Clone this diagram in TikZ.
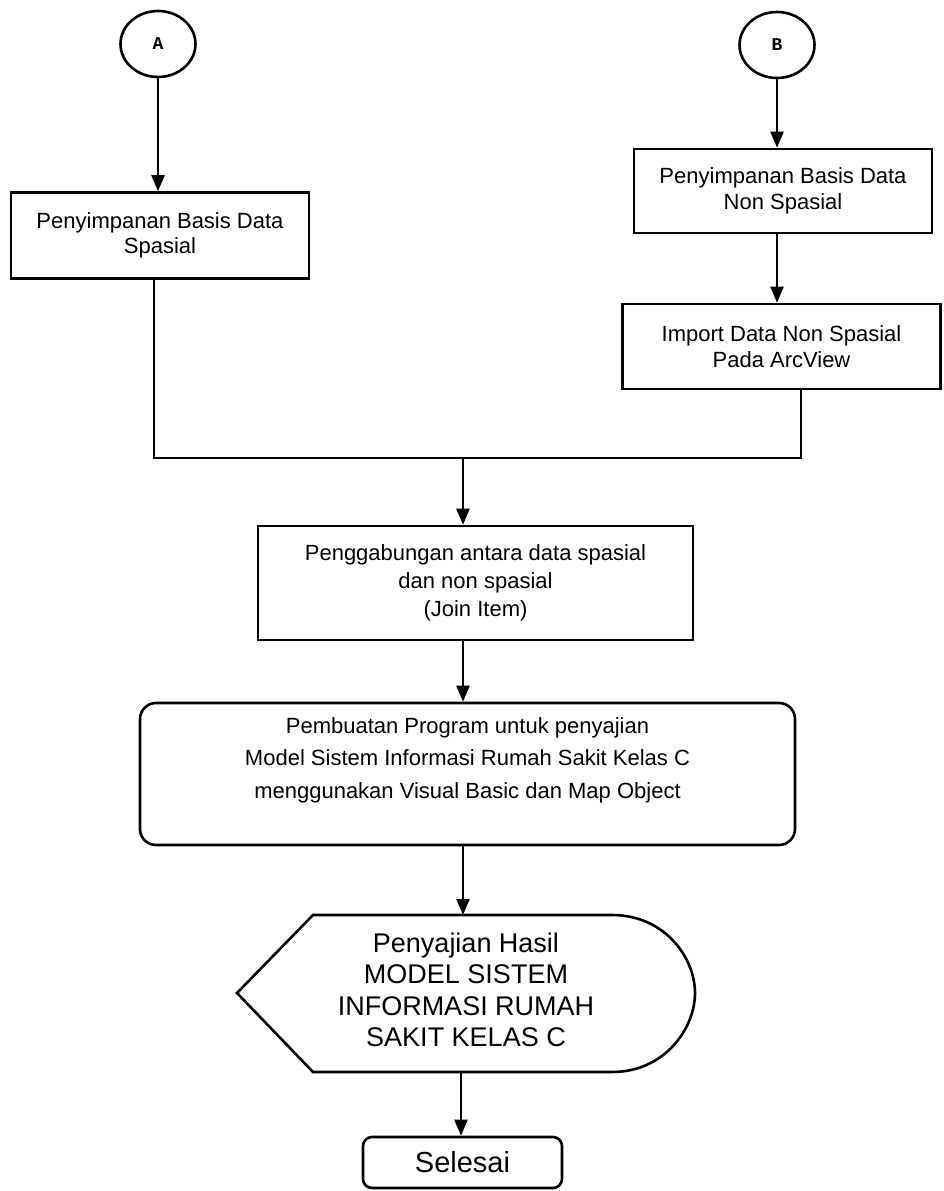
\documentclass[tikz,border=0pt]{standalone}
\usepackage{fontspec}
\setmainfont{Liberation Sans}
\newfontfamily\monof{Liberation Mono}
\usetikzlibrary{arrows.meta,shapes.geometric}
\begin{document}
\begin{tikzpicture}[x=1pt,y=-1pt,
  conn/.style={draw,line width=2.2pt},
  arr/.style={conn,-{Triangle[length=16pt,width=13pt]}},
  box/.style={draw,line width=2.6pt,rectangle,inner sep=0pt,align=center,font=\fontsize{22}{25.5}\selectfont},
  bigbox/.style={box,font=\fontsize{22}{28}\selectfont},
  rbox/.style={box,rounded corners=16pt,font=\fontsize{22}{32.5}\selectfont},
  term/.style={draw,line width=2.6pt,ellipse,inner sep=0pt,minimum width=75pt,minimum height=66pt,font=\monof\fontsize{18}{20}\selectfont\bfseries},
  disptext/.style={align=center,font=\fontsize{27}{31.5}\selectfont},
  endbox/.style={draw,line width=2.6pt,rounded corners=9pt,inner sep=0pt,minimum width=199pt,minimum height=51pt,font=\fontsize{29}{32}\selectfont}
]
\useasboundingbox (0,0) rectangle (943,1191);

\node[term] (A) at (158,44) {A};
\node[term] (B) at (777,45) {B};

\node[box,minimum width=298pt,minimum height=86pt] (box1) at (160,235.5) {Penyimpanan Basis Data\\Spasial};
\node[box,minimum width=298pt,minimum height=84pt] (box2) at (783,191) {Penyimpanan Basis Data\\Non Spasial};
\node[box,minimum width=318pt,minimum height=85pt] (box3) at (781.5,346.5) {Import Data Non Spasial\\Pada ArcView};
\node[bigbox,minimum width=435pt,minimum height=114pt] (box4) at (475.5,583) {Penggabungan antara data spasial\\dan non spasial\\(Join Item)};
\node[rbox,minimum width=655pt,minimum height=142pt] (box5) at (467.5,774) {Pembuatan Program untuk penyajian\\Model Sistem Informasi Rumah Sakit Kelas C\\menggunakan Visual Basic dan Map Object\\\mbox{}};

\coordinate (dtop) at (463,915);
\coordinate (dbot) at (461,1072);
\draw[line width=2.6pt,line join=miter] (313,915) -- (612,915) .. controls (665,915) and (695,958) .. (695,993) .. controls (695,1028) and (665,1072) .. (612,1072) -- (313,1072) -- (237,993) -- cycle;
\node[disptext] (disp) at (466,990) {Penyajian Hasil\\MODEL SISTEM\\INFORMASI RUMAH\\SAKIT KELAS C};

\node[endbox] (sel) at (462.5,1162.5) {Selesai};

\coordinate (j1) at (154,458);
\coordinate (j2) at (801,458);
\coordinate (jm) at (463,458);

\draw[arr] (A.south) -- (A.south |- box1.north);
\draw[arr] (B.south) -- (B.south |- box2.north);
\draw[arr] (B.south |- box2.south) -- (B.south |- box3.north);
\draw[conn] (box1.south -| j1) -- (j1) -- (j2) -- (box3.south -| j2);
\draw[arr] (jm) -- (jm |- box4.north);
\draw[arr] (box4.south -| jm) -- (box5.north -| jm);
\draw[arr] (box5.south -| jm) -- (dtop);
\draw[arr] (dbot) -- (sel.north -| dbot);
\end{tikzpicture}
\end{document}
